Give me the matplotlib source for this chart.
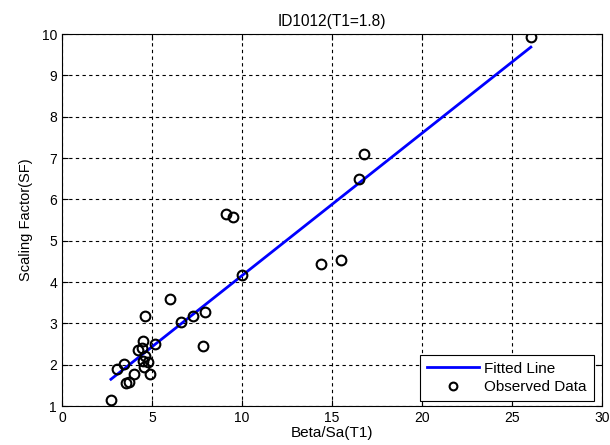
import numpy as np
import matplotlib
matplotlib.use('Agg')
from matplotlib import pyplot as plt

plt.rcParams['font.family'] = ['Liberation Sans', 'DejaVu Sans']

beta_sa = [2.72, 3.07, 3.45, 3.55, 3.70, 4.00, 4.20, 4.45, 4.48, 4.52,
           4.55, 4.62, 4.80, 4.90, 4.60, 5.17, 6.00, 6.60, 7.30, 7.94,
           7.85, 9.98, 9.10, 9.48, 14.37, 15.48, 16.50, 16.80, 26.05]
scale_factor = [1.15, 1.90, 2.02, 1.56, 1.58, 1.78, 2.36, 2.40, 2.58, 2.08,
                1.95, 2.20, 2.07, 1.78, 3.17, 2.50, 3.59, 3.03, 3.17, 3.27,
                2.46, 4.16, 5.64, 5.57, 4.44, 4.54, 6.50, 7.10, 9.93]

x = np.array(beta_sa)
y = np.array(scale_factor)
slope, intercept = np.polyfit(x, y, 1)
fit_x = np.array([x.min(), x.max()])
fit_y = slope * fit_x + intercept

fig = plt.figure(figsize=(6.1, 4.45), dpi=100)
ax = fig.add_axes([0.1016, 0.0876, 0.8852, 0.8357])

ax.plot(fit_x, fit_y, '-', color='#0000ff', lw=2, label='Fitted Line', zorder=3)
ax.plot(x, y, 'o', mfc='none', mec='black', mew=1.5, ms=7,
        label='Observed Data', zorder=4)

ax.set_xlim(0, 30)
ax.set_ylim(1, 10)
ax.set_xticks(range(0, 31, 5))
ax.set_yticks(range(1, 11))
ax.grid(True, color='black', linestyle=(0, (3, 3)), linewidth=0.8)
ax.tick_params(direction='in', top=True, right=True, labelsize=10, length=4)
for s in ax.spines.values():
    s.set_linewidth(0.8)

ax.set_xlabel('Beta/Sa(T1)', fontsize=11, labelpad=1)
ax.set_ylabel('Scaling Factor(SF)', fontsize=10.5, labelpad=6)
ax.set_title('ID1012(T1=1.8)', fontsize=11.2, pad=6)

leg = ax.legend(loc='lower right', bbox_to_anchor=(0.985, 0.0135),
                fontsize=11, fancybox=False, edgecolor='black', framealpha=1,
                borderaxespad=0, borderpad=0.45, labelspacing=0.3,
                handlelength=3.4, handletextpad=0.35, markerscale=0.8)
leg.get_frame().set_linewidth(0.8)

fig.savefig('out.png', dpi=100)
